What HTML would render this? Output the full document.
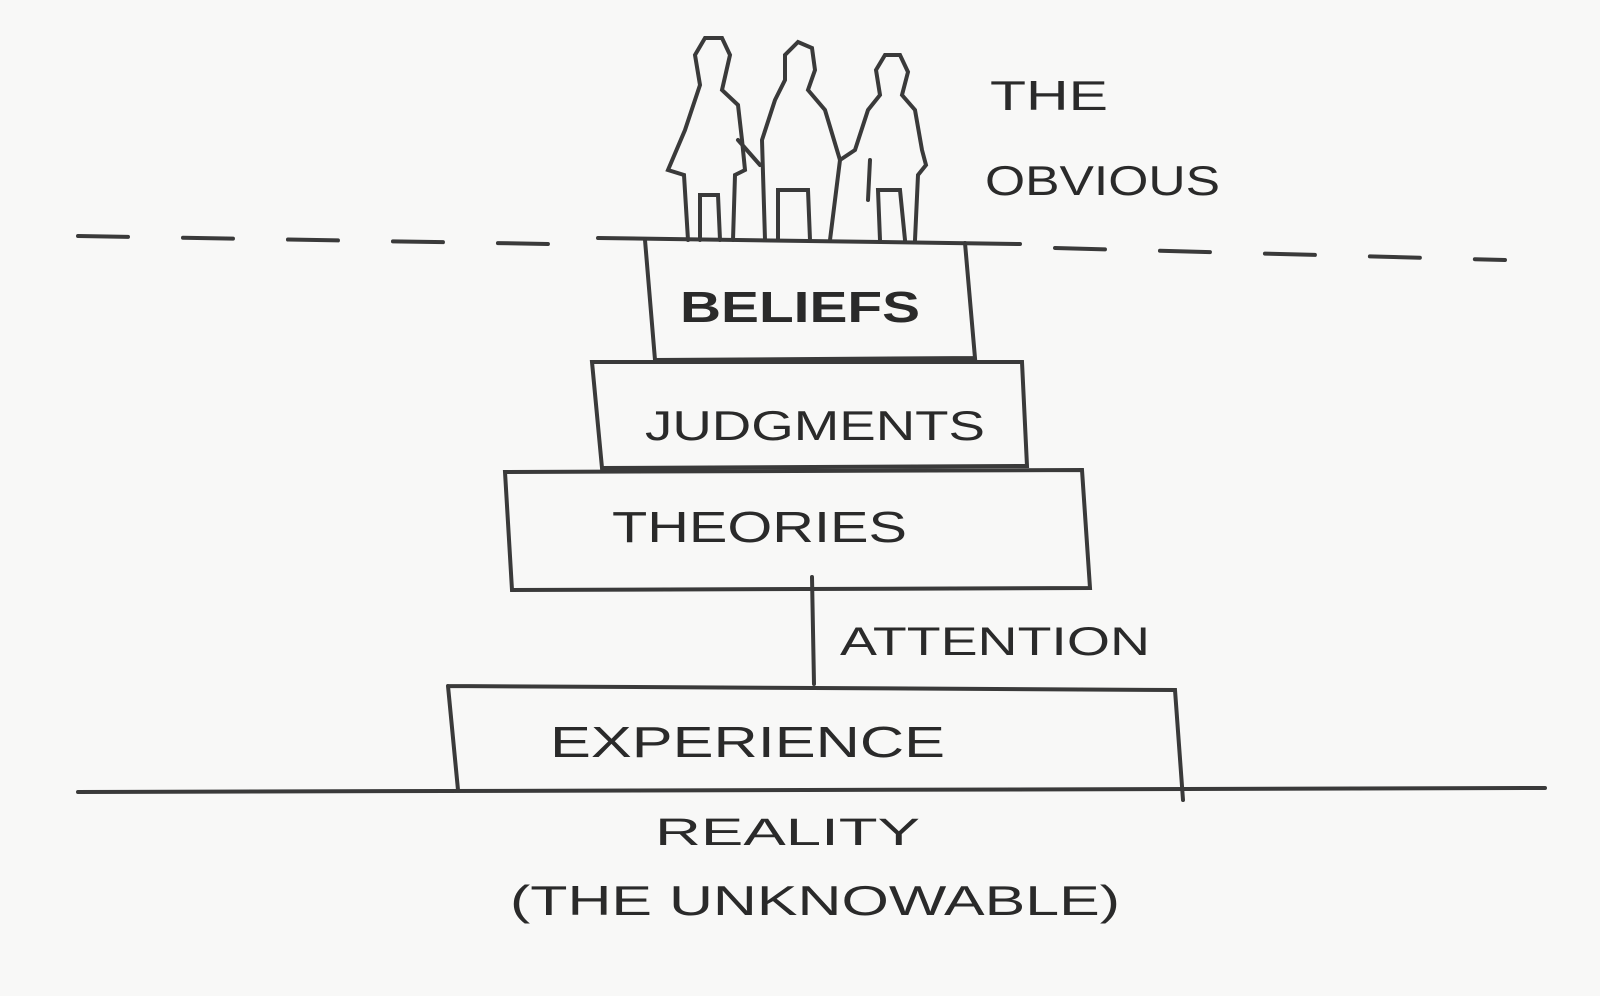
<!DOCTYPE html>
<html><head><style>
html,body{margin:0;padding:0;background:#f8f8f7;}
svg{display:block}
text{font-family:"Liberation Sans",sans-serif;fill:#2a2a2a;}
</style></head><body>
<svg width="1600" height="996" viewBox="0 0 1600 996" xmlns="http://www.w3.org/2000/svg">
<rect width="1600" height="996" fill="#f8f8f7"/>
<g stroke="#3a3a3a" stroke-width="4" fill="none" stroke-linecap="round">
<path d="M78 236 L550 244" stroke-dasharray="50 55"/>
<path d="M1055 248 L1505 260" stroke-dasharray="50 55"/>
<path d="M598 238 L1020 244"/>
<path d="M645 240 L655 360 L975 358 L965 243"/>
<path d="M592 362 L602 468 L1027 466 L1022 362 Z"/>
<path d="M505 472 L512 590 L1090 588 L1082 470 Z"/>
<path d="M812 577 L814 684"/>
<path d="M448 686 L458 790 M448 686 L1175 690 L1183 800"/>
<path d="M78 792 L1545 788"/>
<path d="M688 240 L684 175 L668 170 L685 130 L700 85 L695 55 L705 38 L722 38 L730 55 L722 90 L738 105 L742 140 L745 170 L735 175 L733 240"/>
<path d="M700 240 L700 195 L718 195 L720 240"/>
<path d="M738 140 L760 165"/>
<path d="M765 240 L762 140 L775 100 L785 80 L785 55 L798 42 L812 48 L815 70 L808 90 L825 110 L840 160 L830 240"/>
<path d="M778 240 L778 190 L808 190 L810 240"/>
<path d="M840 160 L855 150 L868 110 L880 95 L876 70 L885 55 L900 55 L908 72 L902 95 L915 110 L922 150 L926 165 L918 175 L915 240"/>
<path d="M880 240 L878 190 L900 190 L905 240"/>
<path d="M870 160 L868 200"/>
</g>
<text x="990" y="110" font-size="42" textLength="118" lengthAdjust="spacingAndGlyphs">THE</text>
<text x="985" y="195" font-size="42" textLength="235" lengthAdjust="spacingAndGlyphs">OBVIOUS</text>
<text x="680" y="322" font-size="44" textLength="240" lengthAdjust="spacingAndGlyphs" font-weight="bold">BELIEFS</text>
<text x="645" y="440" font-size="42" textLength="340" lengthAdjust="spacingAndGlyphs">JUDGMENTS</text>
<text x="612" y="542" font-size="44" textLength="295" lengthAdjust="spacingAndGlyphs">THEORIES</text>
<text x="840" y="655" font-size="40" textLength="310" lengthAdjust="spacingAndGlyphs">ATTENTION</text>
<text x="550" y="757" font-size="44" textLength="395" lengthAdjust="spacingAndGlyphs">EXPERIENCE</text>
<text x="655" y="845" font-size="38" textLength="265" lengthAdjust="spacingAndGlyphs">REALITY</text>
<text x="510" y="915" font-size="42" textLength="610" lengthAdjust="spacingAndGlyphs">(THE UNKNOWABLE)</text>
</svg>
</body></html>
